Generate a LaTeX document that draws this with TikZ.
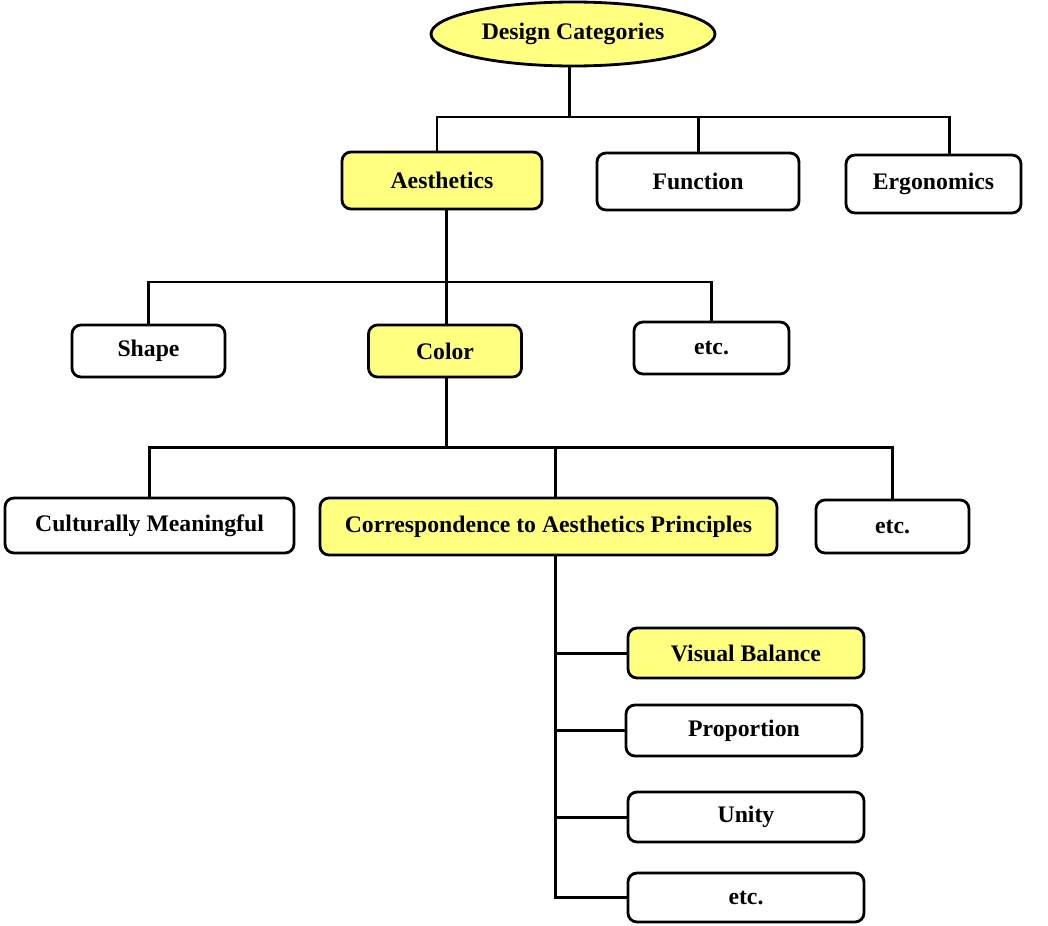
\documentclass[tikz,border=0pt]{standalone}
\usepackage{fontspec}
\setmainfont{Liberation Serif}
\usetikzlibrary{shapes.geometric}
\definecolor{paleyellow}{RGB}{255,255,128}
\begin{document}
\begin{tikzpicture}[
    box/.style={draw, line width=1.6pt, rounded corners=0.18cm, fill=white,
      font=\fontsize{13.5}{16}\selectfont\bfseries, inner sep=0pt},
    hibox/.style={box, fill=paleyellow},
    link/.style={line width=1.7pt}
  ]
      \useasboundingbox (0,0) rectangle (20.96,-18.5);
      \draw
        (11.46,-0.68) node[ellipse, draw, line width=1.6pt, fill=paleyellow,
          minimum width=5.68cm, minimum height=1.28cm,
          font=\fontsize{13.5}{16}\selectfont\bfseries] (design){Design Categories}
        (8.84,-3.61) node[hibox, minimum width=4cm, minimum height=1.14cm] (aes){Aesthetics}
        (13.96,-3.63) node[box, minimum width=4.04cm, minimum height=1.14cm] (func){Function}
        (18.67,-3.68) node[box, minimum width=3.5cm, minimum height=1.16cm] (ergo){Ergonomics}
        (2.97,-7.02) node[box, minimum width=3.06cm, minimum height=1.04cm] (shape){Shape}
        (8.9,-7.02) node[hibox, minimum width=3.06cm, minimum height=1.04cm] (color){Color}
        (14.23,-6.96) node[box, minimum width=3.1cm, minimum height=1.04cm] (etca){etc.}
        (2.99,-10.51) node[box, minimum width=5.78cm, minimum height=1.1cm] (cult){Culturally Meaningful}
        (10.97,-10.53) node[hibox, minimum width=9.14cm, minimum height=1.14cm] (corr){Correspondence to Aesthetics Principles}
        (17.85,-10.53) node[box, minimum width=3.06cm, minimum height=1.06cm] (etcb){etc.}
        (14.92,-13.06) node[hibox, minimum width=4.72cm, minimum height=1cm] (vis){Visual Balance}
        (14.88,-14.61) node[box, minimum width=4.72cm, minimum height=1.02cm] (prop){Proportion}
        (14.92,-16.34) node[box, minimum width=4.72cm, minimum height=1cm] (unity){Unity}
        (14.92,-17.95) node[box, minimum width=4.72cm, minimum height=0.98cm] (etcc){etc.};
      \coordinate (top) at (11.38,-2.34);
      \coordinate (mid) at (8.92,-5.64);
      \coordinate (low) at (8.92,-8.94);
      \coordinate (trunk) at (11.1,-10.53);
      \begin{scope}[link]
        \draw (design.south -| top) -- (top);
        \draw ([xshift=-0.1cm]aes.north) |- (top) -| ([xshift=0.32cm]ergo.north);
        \draw (func.north) -- (func.north |- top);
        \draw (aes.south -| mid) -- (mid);
        \draw (shape.north) |- (mid) -| (etca.north);
        \draw (color.north -| mid) -- (mid);
        \draw (color.south -| low) -- (low);
        \draw (cult.north) |- (low) -| (etcb.north);
        \draw ([xshift=0.13cm]corr.north) -- ([xshift=0.13cm]corr.north |- low);
        \draw (corr.south -| trunk) |- (etcc.west);
        \draw (trunk |- vis.west) -- (vis.west);
        \draw (trunk |- prop.west) -- (prop.west);
        \draw (trunk |- unity.west) -- (unity.west);
      \end{scope}
    \end{tikzpicture}
\end{document}
